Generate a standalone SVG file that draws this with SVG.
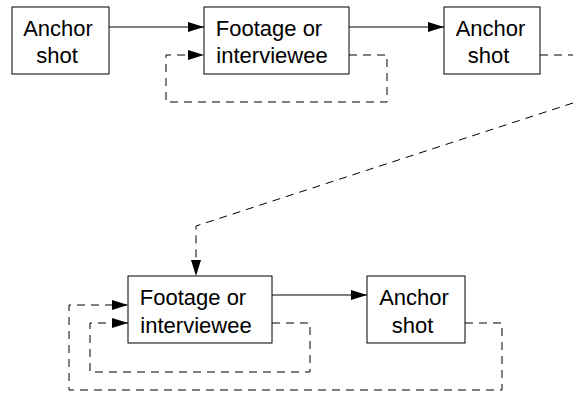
<svg xmlns="http://www.w3.org/2000/svg" width="573" height="397" viewBox="0 0 573 397">
<style>
rect{fill:#fff;stroke:#000;stroke-width:1}
text{font-family:"Liberation Sans",Arial,sans-serif;font-size:22px;text-anchor:middle;fill:#000}
.s{fill:none;stroke:#000;stroke-width:1}
.d{fill:none;stroke:#000;stroke-width:1;stroke-dasharray:8,6}
</style>
<defs>
<marker id="a" viewBox="0 0 16 10" refX="16" refY="5" markerWidth="16" markerHeight="10" markerUnits="userSpaceOnUse" orient="auto">
<path d="M0,0 L16,5 L0,10 Z" fill="#000"/>
</marker>
</defs>
<rect width="573" height="397" fill="#fff" style="stroke:none"/>
<g id="connectors">
<line class="s" x1="109" y1="27" x2="204" y2="27" marker-end="url(#a)"/>
<polyline class="d" points="349,55 387,55 387,102 166,102 166,55 204,55" marker-end="url(#a)"/>
<line class="s" x1="349" y1="27" x2="444" y2="27" marker-end="url(#a)"/>
<line class="d" x1="540" y1="55" x2="573" y2="55"/>
<polyline class="d" points="573,103 196,226 196,276" marker-end="url(#a)"/>
<line class="s" x1="272" y1="295" x2="367" y2="295" marker-end="url(#a)"/>
<polyline class="d" points="272,323 310,323 310,372 90,372 90,323 128,323" marker-end="url(#a)"/>
<polyline class="d" points="465,323 502,323 502,390 69,390 69,305 128,305" marker-end="url(#a)"/>
</g>
<g id="n1"><rect x="12" y="7" width="97" height="67"/><text x="58" y="36">Anchor</text><text x="57" y="63">shot</text></g>
<g id="n2"><rect x="204" y="7" width="145" height="67"/><text x="269" y="36">Footage or</text><text x="272" y="63">interviewee</text></g>
<g id="n3"><rect x="444" y="7" width="96" height="67"/><text x="490.5" y="36">Anchor</text><text x="488.5" y="63">shot</text></g>
<g id="n4"><rect x="128" y="276" width="144" height="67"/><text x="193" y="305">Footage or</text><text x="196" y="333">interviewee</text></g>
<g id="n5"><rect x="367" y="276" width="98" height="67"/><text x="414" y="305">Anchor</text><text x="412.5" y="333">shot</text></g>
</svg>
